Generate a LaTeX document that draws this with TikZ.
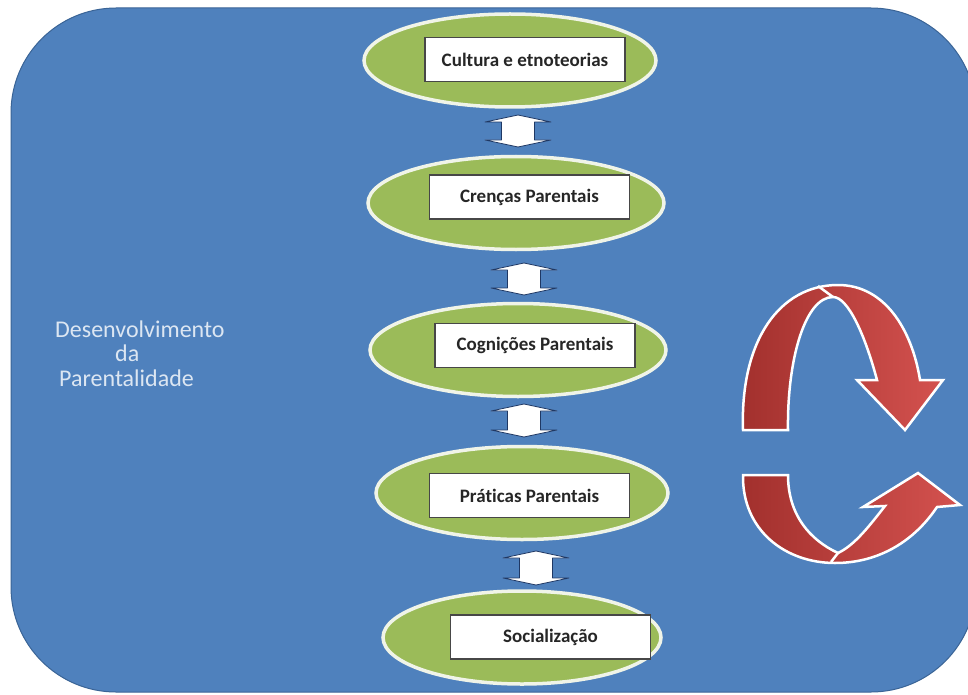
\documentclass[tikz,border=0pt]{standalone}
\usepackage{fontspec}
\setmainfont{Carlito}[Ligatures={NoCommon}]
\usetikzlibrary{shapes.geometric}

\definecolor{bgblue}{HTML}{4F81BD}
\definecolor{bgedge}{HTML}{3A6496}
\definecolor{leaf}{HTML}{9BBB59}
\definecolor{rimw}{HTML}{F0F4E8}
\definecolor{arrowdark}{HTML}{A2302D}
\definecolor{arrowlight}{HTML}{D4524F}
\definecolor{ink}{HTML}{262626}
\definecolor{navy}{HTML}{1F3864}
\definecolor{paleblue}{HTML}{DCE6F2}

% vertical two-headed block arrow: x centre, top y, bottom y
\newcommand\twoway[3]{%
  \draw[fill=white, draw=navy, line width=0.8pt, line join=round]
    (#1,#2) -- (#1+33,#2+7) -- (#1+16.5,#2+7) -- (#1+16.5,#3-7)
    -- (#1+33,#3-7) -- (#1,#3) -- (#1-33,#3-7) -- (#1-16.5,#3-7)
    -- (#1-16.5,#2+7) -- (#1-33,#2+7) -- cycle;}

\begin{document}
\begin{tikzpicture}[x=1pt,y=-1pt,
  stage/.style={ellipse, fill=leaf, draw=rimw, line width=3.5pt, inner sep=0pt,
    minimum height=93pt},
  tagbox/.style={draw=ink!85, line width=1.2pt, fill=white, minimum width=200pt,
    minimum height=44pt, inner sep=0pt, text=ink,
    font=\fontsize{19}{22}\selectfont\bfseries},
  sidetext/.style={anchor=base west, text=paleblue, inner sep=0pt,
    font=\fontsize{24}{28}\selectfont},
  cyclearrow/.style={left color=arrowdark, right color=arrowlight,
    draw=white, line width=2.5pt, line join=miter}
]
\useasboundingbox (0,0) rectangle (968,695);

% background panel
\begin{scope}
  \clip (0,0) rectangle (968,695);
  \draw[fill=bgblue, draw=bgedge, line width=1pt, rounded corners=105pt]
    (11,8) rectangle (976,692);
\end{scope}

% stages
\node[stage, minimum width=292pt] (e1) at (510,60.5) {};
\node[tagbox] (b1) at (525,59.5) {Cultura e etnoteorias};

\node[stage, minimum width=296pt] (e2) at (516,203) {};
\node[tagbox] (b2) at (529.5,197) {Crenças Parentais};

\node[stage, minimum width=296pt] (e3) at (518,350) {};
\node[tagbox] (b3) at (535,345.5) {Cognições Parentais};

\node[stage, minimum width=292pt] (e4) at (522,493) {};
\node[tagbox] (b4) at (529.5,495.5) {Práticas Parentais};

\node[stage, minimum width=278pt] (e5) at (522,637.5) {};
\node[tagbox] (b5) at (550.5,637) {Socialização};

% links between stages
\twoway{518}{115}{147}
\twoway{524}{263}{295}
\twoway{524}{404}{437}
\twoway{536}{551}{585}

% side caption
\node[sidetext] (t1) at (55,337) {Desenvolvimento};
\node[sidetext] (t2) at (115,361) {da};
\node[sidetext] (t3) at (59,386) {Parentalidade};

% cycle arrows
\shadedraw[cyclearrow]
  (743,430) .. controls (740,340) and (780,285) .. (838,285)
  .. controls (885,285) and (912,330) .. (920,380)
  -- (943,380) -- (905,430) -- (857,380) -- (877,380)
  .. controls (865,335) and (848,297) .. (833,297)
  .. controls (805,297) and (787,360) .. (788,430) -- cycle;
\draw[white, line width=2.5pt] (818,286) -- (833,297);

\shadedraw[cyclearrow]
  (743,475) .. controls (742,530) and (785,563) .. (835,563)
  .. controls (880,563) and (915,540) .. (937,507)
  -- (960,505) -- (918,473) -- (863,507) -- (885,506)
  .. controls (870,525) and (855,545) .. (838,553)
  .. controls (810,540) and (788,515) .. (788,475) -- cycle;
\draw[white, line width=2.5pt] (831,562) -- (838,553);
\end{tikzpicture}
\end{document}
